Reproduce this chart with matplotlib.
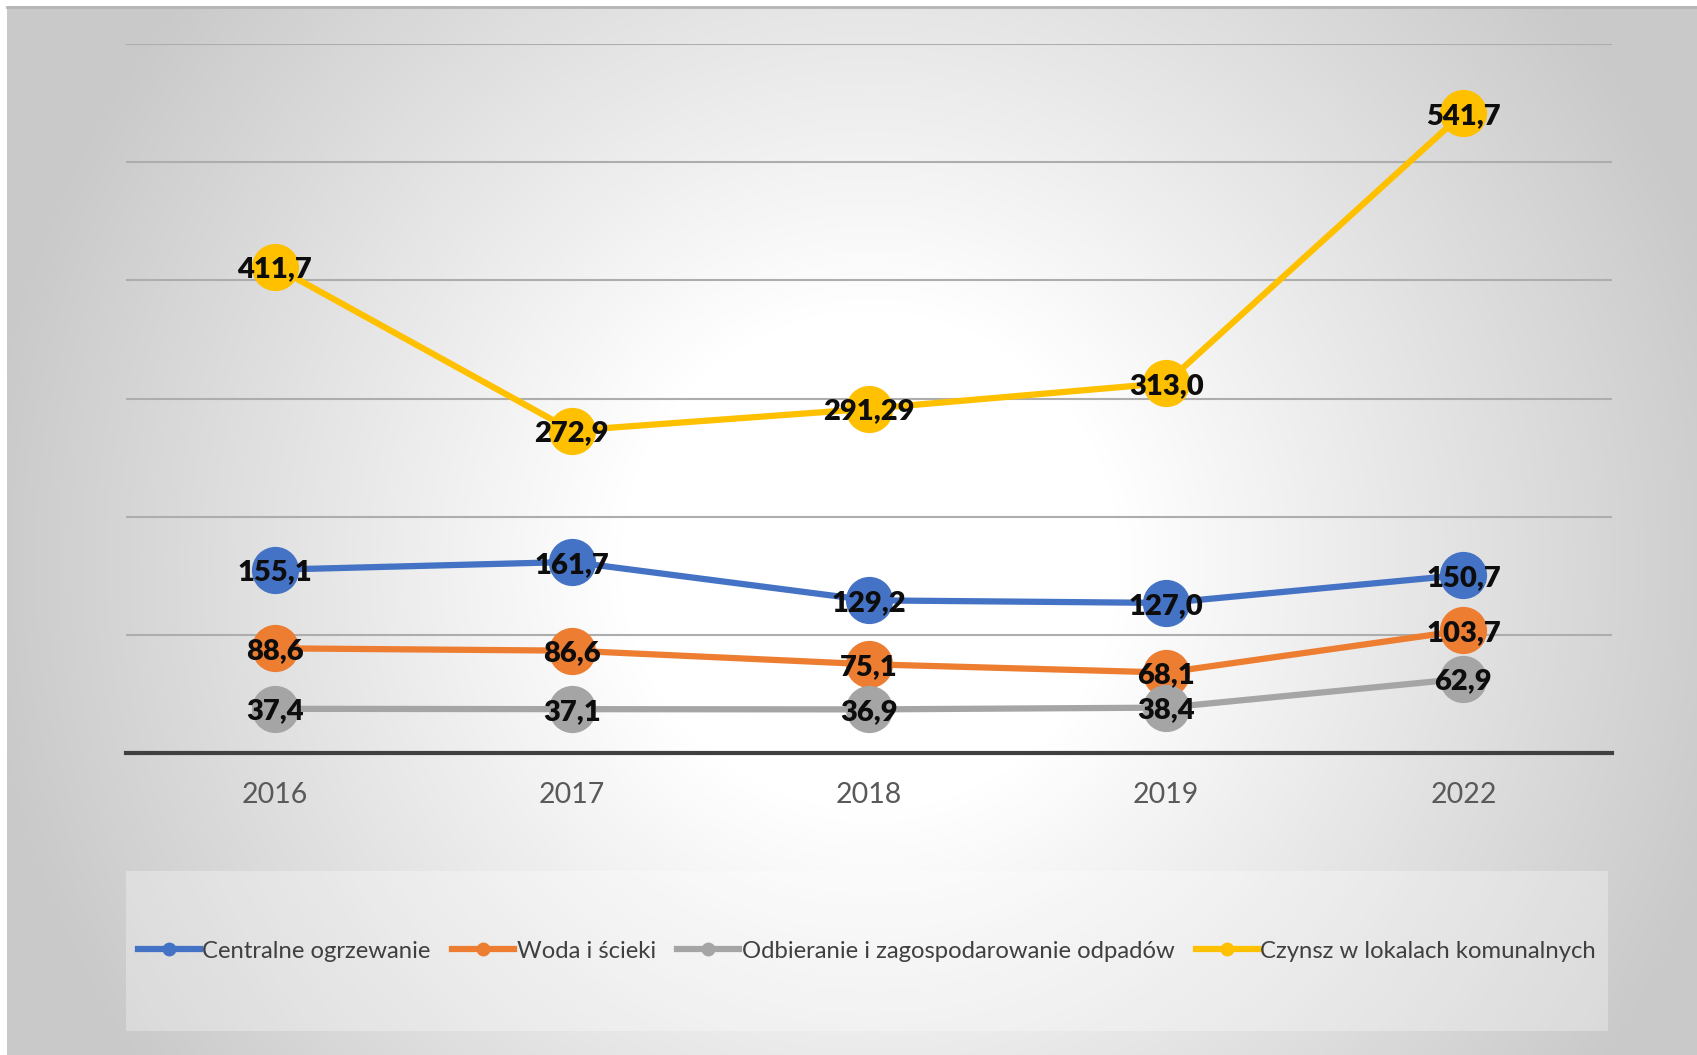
import numpy as np
import matplotlib.pyplot as plt
from matplotlib.lines import Line2D
from matplotlib.patches import Rectangle

# Data
years = ["2016", "2017", "2018", "2019", "2022"]
heating = [155.1, 161.7, 129.2, 127.0, 150.7]
water = [88.6, 86.6, 75.1, 68.1, 103.7]
waste = [37.4, 37.1, 36.9, 38.4, 62.9]
rent = [411.7, 272.9, 291.29, 313.0, 541.7]

heating_lbl = ["155,1", "161,7", "129,2", "127,0", "150,7"]
water_lbl = ["88,6", "86,6", "75,1", "68,1", "103,7"]
waste_lbl = ["37,4", "37,1", "36,9", "38,4", "62,9"]
rent_lbl = ["411,7", "272,9", "291,29", "313,0", "541,7"]

names = ["Centralne ogrzewanie", "Woda i ścieki",
         "Odbieranie i zagospodarowanie odpadów", "Czynsz w lokalach komunalnych"]
colors = ["#4472C4", "#ED7D31", "#A5A5A5", "#FFC000"]

W, H = 1697, 1055
plt.rcParams['font.family'] = ['Lato', 'DejaVu Sans']

fig = plt.figure(figsize=(W / 100, H / 100), dpi=100)

# radial gradient background
bg = fig.add_axes([0, 0, 1, 1], zorder=-10)
xx, yy = np.meshgrid(np.arange(W), np.arange(H))
d = np.hypot(xx - 870, yy - 560)
shade = 1 - 0.21 * np.clip((d - 250) / 640, 0, 1)
shade[(xx < 7) | (yy < 6)] = 1.0
bg.imshow(np.dstack([shade] * 3), extent=(0, W, H, 0), aspect='auto')
bg.plot([7, W], [6.5, 6.5], color="#b5b5b5", lw=2)
bg.set_xlim(0, W)
bg.set_ylim(H, 0)
bg.axis('off')

# legend box
bg.add_patch(Rectangle((126, 871), 1608 - 126, 1031 - 871,
                       facecolor="white", alpha=0.3, edgecolor="none"))

# main plot
ax = fig.add_axes([126 / W, (H - 753) / H, (1612 - 126) / W, (753 - 44) / H])
ax.patch.set_alpha(0)
x = np.arange(len(years))
series = [heating, water, waste, rent]
labels = [heating_lbl, water_lbl, waste_lbl, rent_lbl]
for vals, lbls, c in zip(series, labels, colors):
    ax.plot(x, vals, color=c, lw=4.5, marker='o', markersize=34,
            markeredgewidth=0, solid_capstyle='round', zorder=3)
    for xi, v, t in zip(x, vals, lbls):
        ax.annotate(t, (xi, v), xytext=(0, -2), textcoords='offset points',
                    ha='center', va='center', fontsize=21, fontweight='heavy',
                    color="#0d0d0d", zorder=5)

ax.set_xlim(-0.5, len(years) - 0.5)
ax.set_ylim(0, 600)
ax.set_yticks(np.arange(0, 601, 100))
ax.yaxis.grid(True, color="#adadad", lw=1.5)
ax.set_axisbelow(True)
ax.set_yticklabels([])
ax.tick_params(axis='y', length=0)
ax.set_xticks(x)
ax.set_xticklabels(years, fontsize=20.5, color="#595959")
ax.tick_params(axis='x', length=0, pad=21)
for s in ["top", "right", "left"]:
    ax.spines[s].set_visible(False)
ax.spines["bottom"].set_color("#404040")
ax.spines["bottom"].set_linewidth(3)

handles = [Line2D([0], [0], color=c, lw=4.5, marker='o', markersize=10,
                  markeredgewidth=0) for c in colors]
fig.legend(handles, names, loc='center', bbox_to_anchor=(867 / W, (H - 951) / H),
           ncol=4, frameon=False, fontsize=17.2, labelcolor="#404040",
           handlelength=2.6, handletextpad=0.1, columnspacing=0.9)

fig.savefig("out.png", dpi=100)
